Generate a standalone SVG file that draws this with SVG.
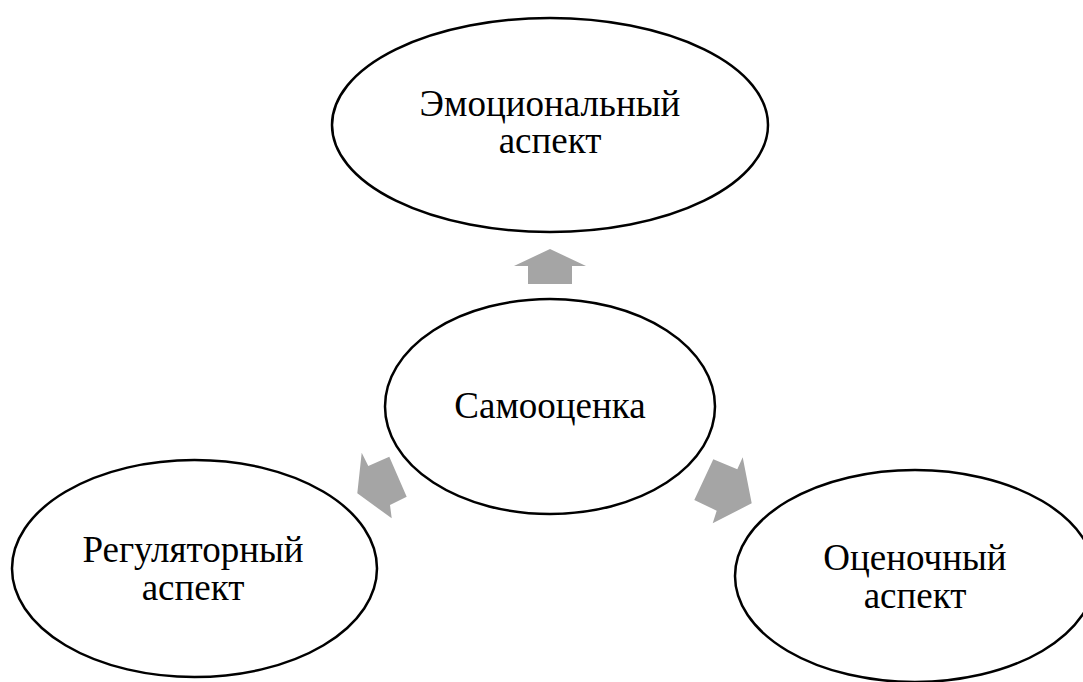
<svg xmlns="http://www.w3.org/2000/svg" width="1083" height="682" viewBox="0 0 1083 682">
<style>
.node ellipse{fill:#fff;stroke:#000;stroke-width:2.5}
.node text{font-family:"Liberation Serif","Times New Roman",serif;font-size:37px;fill:#000;text-anchor:middle}
.arrow{fill:#a5a5a5;stroke:none}
</style>
<rect width="1083" height="682" fill="#fff"/>
<g id="connectors">
<polygon class="arrow" points="550,249 586,266 572,266 572,284 528,284 528,266 514,266"/>
<polygon class="arrow" points="361.7,452.7 368.3,466 389.3,456.7 406.7,496.7 390,505 391.7,518.3 357.3,493.3"/>
<polygon class="arrow" points="713.3,459.3 737.3,469.3 742.7,457.3 751.7,503.3 712.7,523.3 716.7,510.7 694.3,500"/>
</g>
<g id="node-emotional" class="node">
<ellipse cx="550" cy="125" rx="218" ry="107"/>
<text x="550" y="116">Эмоциональный</text>
<text x="550" y="153">аспект</text>
</g>
<g id="node-self" class="node">
<ellipse cx="550" cy="406.5" rx="165" ry="107.5"/>
<text x="550" y="418">Самооценка</text>
</g>
<g id="node-regulatory" class="node">
<ellipse cx="194.5" cy="568.5" rx="182.5" ry="108.5"/>
<text x="193" y="562">Регуляторный</text>
<text x="193" y="600">аспект</text>
</g>
<g id="node-evaluative" class="node">
<ellipse cx="915" cy="576" rx="180" ry="106"/>
<text x="915" y="570">Оценочный</text>
<text x="915" y="608">аспект</text>
</g>
</svg>
